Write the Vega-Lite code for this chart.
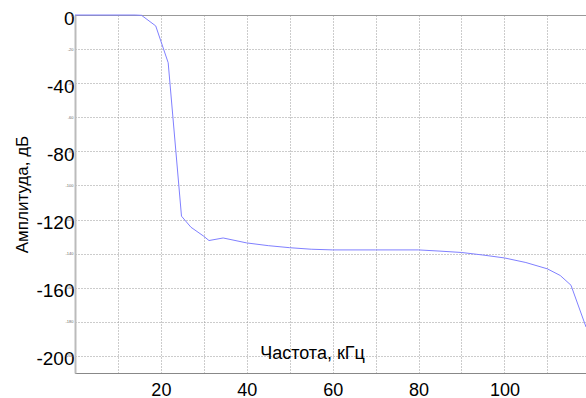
{
  "$schema": "https://vega.github.io/schema/vega-lite/v6.json",
  "width": 511,
  "height": 358,
  "autosize": {"type": "none"},
  "padding": {"left": 75, "top": 15, "right": 0, "bottom": 25},
  "background": "white",
  "config": {
    "view": {"stroke": "#999999", "strokeWidth": 1},
    "font": "Liberation Sans"
  },
  "data": {
    "values": [
      {"f": 0, "a": 0},
      {"f": 14, "a": 0},
      {"f": 15.5, "a": -0.2},
      {"f": 18.8, "a": -6.4},
      {"f": 21.7, "a": -28},
      {"f": 24.8, "a": -118},
      {"f": 27, "a": -124.5},
      {"f": 30, "a": -129.8},
      {"f": 31.2, "a": -132.3},
      {"f": 34.5, "a": -130.8},
      {"f": 40, "a": -133.7},
      {"f": 45, "a": -135.3},
      {"f": 50, "a": -136.5},
      {"f": 55, "a": -137.4},
      {"f": 60, "a": -137.8},
      {"f": 70, "a": -137.8},
      {"f": 80, "a": -137.8},
      {"f": 85, "a": -138.5},
      {"f": 90, "a": -139.3},
      {"f": 95, "a": -140.8},
      {"f": 100, "a": -142.5},
      {"f": 105, "a": -145.2},
      {"f": 110, "a": -148.9},
      {"f": 113, "a": -152.8},
      {"f": 115.5, "a": -158.5},
      {"f": 119, "a": -183}
    ]
  },
  "layer": [
    {
      "mark": {"type": "line", "color": "#8080ff", "strokeWidth": 1, "clip": false},
      "encoding": {
        "x": {
          "field": "f", "type": "quantitative",
          "scale": {"domain": [0, 119], "nice": false, "zero": false},
          "axis": {
            "values": [10, 20, 30, 40, 50, 60, 70, 80, 90, 100, 110],
            "labelExpr": "datum.value % 20 == 0 ? datum.label : ''",
            "grid": true, "gridColor": "#999999", "gridDash": [1, 2], "gridWidth": 1, "gridOpacity": 1,
            "ticks": false, "domainColor": "#888888", "domainWidth": 1,
            "labelFontSize": 18, "labelColor": "#000000", "labelPadding": 8, "labelFlush": false,
            "title": "Частота, кГц", "titleFontSize": 18, "titleFontWeight": "normal", "titleColor": "#000000",
            "titleX": 237, "titleY": -15, "titleAlign": "center", "titleBaseline": "alphabetic"
          }
        },
        "y": {
          "field": "a", "type": "quantitative",
          "scale": {"domain": [-210, 0], "nice": false, "zero": false},
          "axis": {
            "values": [0, -20, -40, -60, -80, -100, -120, -140, -160, -180, -200],
            "labelExpr": "datum.value % 40 == 0 ? replace(datum.label, '−', '-') : ''",
            "grid": true, "gridColor": "#999999", "gridDash": [1, 2], "gridWidth": 1, "gridOpacity": 1,
            "ticks": false, "domainColor": "#bbbbbb", "domainWidth": 2,
            "labelFontSize": 19, "labelColor": "#000000", "labelPadding": 1, "labelOffset": 3,
            "title": "Амплитуда, дБ", "titleFontSize": 17, "titleFontWeight": "normal", "titleColor": "#000000",
            "titleX": -48, "titleY": 179, "titleAngle": -90, "titleAlign": "center", "titleBaseline": "alphabetic"
          }
        }
      }
    },
    {
      "mark": {"type": "line", "opacity": 0},
      "encoding": {
        "x": {"field": "f", "type": "quantitative"},
        "y": {
          "field": "a", "type": "quantitative",
          "axis": {
            "orient": "left",
            "values": [0, -20, -40, -60, -80, -100, -120, -140, -160, -180, -200],
            "labelExpr": "replace(datum.label, '−', '-')",
            "grid": false, "ticks": false, "domain": false,
            "labelFontSize": 4, "labelColor": "#666666", "labelPadding": 2,
            "title": null
          }
        }
      }
    }
  ],
  "resolve": {"axis": {"y": "independent"}}
}
